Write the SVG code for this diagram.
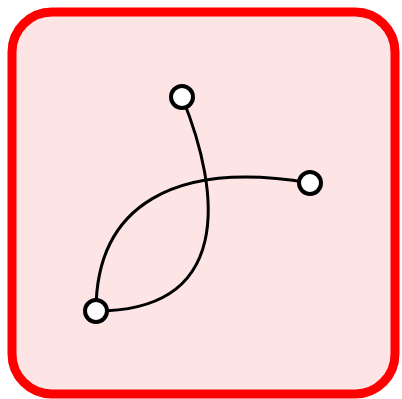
<svg xmlns="http://www.w3.org/2000/svg" width="402" height="399" viewBox="0 0 402 399">
<style>
.frame{fill:#fee5e5;stroke:#ff0000;stroke-width:9}
.node{fill:#ffffff;stroke:#000000;stroke-width:4}
.edge{fill:none;stroke:#000000;stroke-width:3}
</style>
<rect class="frame" x="12" y="12" width="383" height="382" rx="40" ry="40"/>
<g id="connectors">
<path class="edge" d="M96,311 C96,205 175,160 310,183"/>
<path class="edge" d="M182,97 C222,195 232,311 96,311"/>
</g>
<g id="node-top"><circle class="node" cx="182" cy="97" r="11"/></g>
<g id="node-right"><circle class="node" cx="310" cy="183" r="11"/></g>
<g id="node-bottom"><circle class="node" cx="96" cy="311" r="11"/></g>
</svg>
